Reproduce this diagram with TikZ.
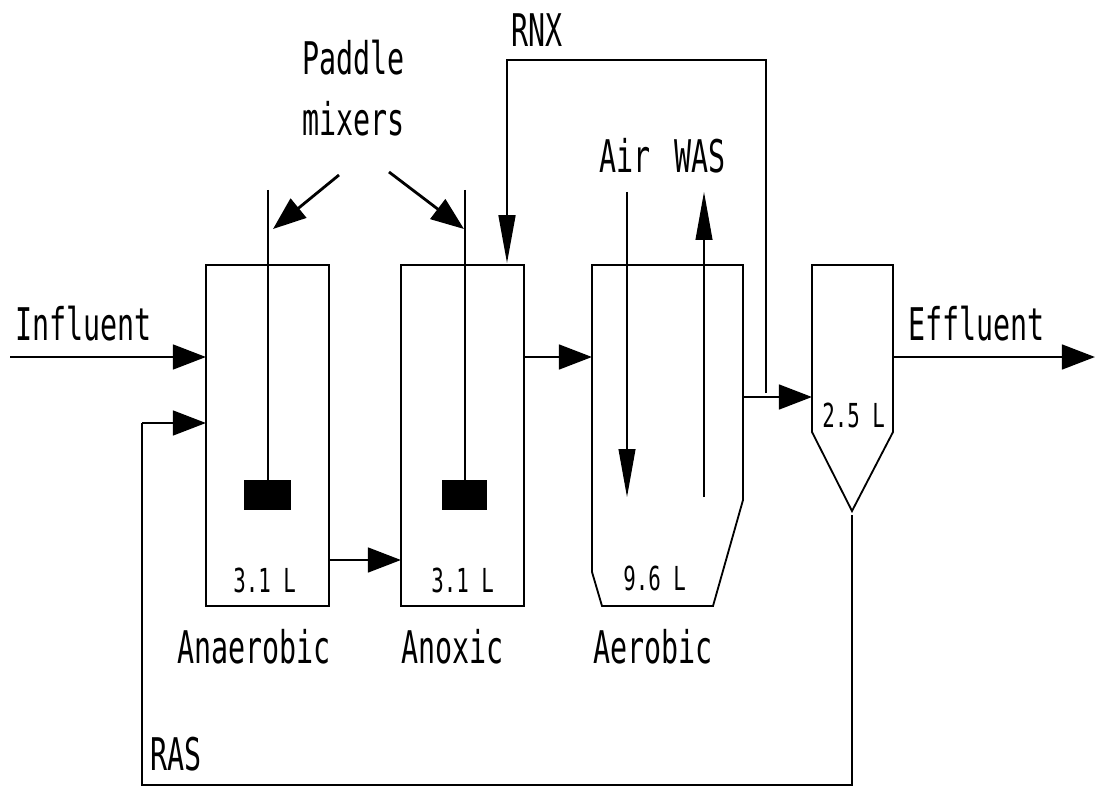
\documentclass[tikz,border=0pt]{standalone}
\usepackage{fontspec}
\newfontfamily\tech[FakeStretch=0.63]{DejaVu Sans Mono}
\usetikzlibrary{arrows.meta}
\begin{document}
\begin{tikzpicture}[x=0.025cm,y=-0.025cm,
  lbl/.style={font=\tech\fontsize{32}{36}\selectfont, inner sep=0, anchor=base west},
  vol/.style={font=\tech\fontsize{23.5}{26}\selectfont, inner sep=0, anchor=base west},
  tankbox/.style={draw, line width=1.3pt, rectangle, inner sep=0, outer sep=0, minimum width=3.075cm, minimum height=8.525cm},
  tankline/.style={line width=1.3pt, line join=miter},
  shaft/.style={line width=0.9pt},
  flow/.style={line width=2pt, -{Triangle[length=23.5pt,width=17.5pt]}},
  pipe/.style={line width=1.4pt},
  gas/.style={line width=0.8pt, -{Triangle[length=34pt,width=12pt]}},
  rnxarrow/.style={line width=1.4pt, -{Triangle[length=34pt,width=12pt]}},
  paddle/.style={fill=black, draw=none}
]
\useasboundingbox (0,0) rectangle (1096,787);

% tanks
\node[tankbox] (ana) at (267.5,435.5) {};
\node[tankbox] (anx) at (462.5,435.5) {};
\draw[tankline] (592,265) coordinate (aerTL) -- (743,265) coordinate (aerTR) -- (743,500) -- (713,606) -- (602,606) -- (592,572) -- cycle;
\coordinate (aerL) at (592,357);
\coordinate (aerR) at (743,397);
\draw[tankline] (812,265) -- (893,265) -- (893,432) -- (852,511) coordinate (clarTip) -- (812,432) -- cycle;
\coordinate (clarL) at (812,397);
\coordinate (clarR) at (893,357);

% mixers
\coordinate (sh1) at (268,190);
\coordinate (sh2) at (465,190);
\node[paddle, minimum width=1.175cm, minimum height=0.75cm, inner sep=0] (pad1) at (267.5,495) {};
\node[paddle, minimum width=1.125cm, minimum height=0.75cm, inner sep=0] (pad2) at (464.5,495) {};
\draw[shaft] (sh1) -- (pad1.north -| sh1);
\draw[shaft] (sh2) -- (pad2.north -| sh2);

% labels
\node[lbl] (paddleT) at (302,75) {Paddle};
\node[lbl] (mixersT) at (302,136) {mixers};
\coordinate (pmL) at (339,175);
\coordinate (pmR) at (389,172);
\draw[flow] (pmL) -- (273,229);
\draw[flow] (pmR) -- (464,229);

\node[lbl] (rnxT) at (511,47) {RNX};
\node[lbl] (airT) at (599,173) {Air};
\node[lbl] (wasT) at (674,173) {WAS};
\node[lbl] (infT) at (15,340) {Influent};
\node[lbl] (effT) at (908,340) {Effluent};
\node[lbl] (anaT) at (177,663) {Anaerobic};
\node[lbl] (anxT) at (401,663) {Anoxic};
\node[lbl] (aerT) at (593,663) {Aerobic};
\node[lbl] (rasT) at (150,770) {RAS};
\node[vol] (v1) at (233,592) {3.1 L};
\node[vol] (v2) at (431,592) {3.1 L};
\node[vol] (v3) at (623,590) {9.6 L};
\node[vol] (v4) at (822,427) {2.5 L};

% flows
\coordinate (inf) at (10,357);
\draw[flow] (inf) -- (inf -| ana.west);
\coordinate (rasL) at (142,423);
\draw[pipe] (clarTip) ++(0,4) -- (852,785) -- (142,785) -- (rasL);
\draw[flow] (rasL) -- (rasL -| ana.west);
\draw[flow] (ana.east |- 0,560) -- (anx.west |- 0,560);
\draw[flow] (anx.east |- aerL) -- (aerL);
\draw[flow] (aerR) -- (clarL);
\coordinate (eff) at (1095,357);
\draw[flow] (clarR) -- (eff);
% RNX recycle
\coordinate (rnxS) at (766,393);
\coordinate (rnxE) at (507,263);
\draw[pipe] (rnxS) -- (766,60) -- (507,60) -- (507,200);
\draw[rnxarrow] (507,200) -- (rnxE);
% air / WAS
\draw[gas] (627,192) -- (627,497);
\draw[gas] (704,497) -- (704,192);
\end{tikzpicture}
\end{document}
